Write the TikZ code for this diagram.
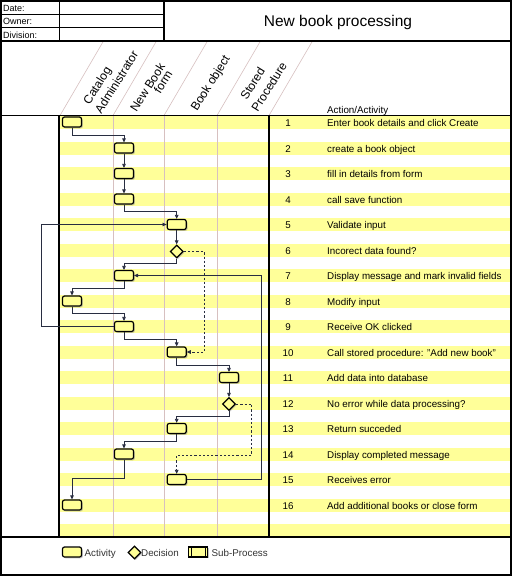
\documentclass[tikz,border=0pt]{standalone}
\usepackage{fontspec}
\setmainfont{Liberation Sans}
\usetikzlibrary{shapes.geometric,arrows.meta,shadows,calc}
\definecolor{stripe}{RGB}{255,255,153}
\definecolor{boxfill}{RGB}{255,255,150}
\definecolor{laneline}{RGB}{215,192,192}
\definecolor{connc}{RGB}{40,45,65}
\begin{document}
\begin{tikzpicture}[x=1pt,y=-1pt,
  activity/.style={draw=black, line width=1.2pt, fill=boxfill, rounded corners=2pt,
    minimum width=19pt, minimum height=10pt, inner sep=0pt,
    drop shadow={shadow xshift=1.3pt, shadow yshift=-1.3pt, fill=black!45}},
  subproc/.style={draw=black, line width=1.2pt, fill=boxfill,
    minimum width=19pt, minimum height=10pt, inner sep=0pt,
    drop shadow={shadow xshift=1.3pt, shadow yshift=-1.3pt, fill=black!45}},
  decision/.style={diamond, draw=black, line width=1.2pt, fill=boxfill,
    minimum width=13pt, minimum height=13pt, inner sep=0pt,
    drop shadow={shadow xshift=1.2pt, shadow yshift=-1.2pt, fill=black!45}},
  conn/.style={draw=connc, line width=0.7pt, -{Triangle[length=4pt,width=3.6pt]}},
  dconn/.style={conn, dash pattern=on 2.2pt off 2pt},
  lbl/.style={font=\fontsize{9.8}{11}\selectfont, inner sep=0pt},
  small/.style={font=\fontsize{9}{10}\selectfont, inner sep=0pt},
  hdr/.style={font=\fontsize{12}{14}\selectfont, rotate=58, inner sep=0pt},
  thick frame/.style={line width=1.6pt, draw=black},
  thin frame/.style={line width=0.8pt, draw=black},
  diag/.style={line width=0.6pt, draw=laneline}
]
\useasboundingbox (0,0) rectangle (512,576);
\fill[white] (0,0) rectangle (512,576);

% stripes
\foreach \k in {0,...,16}
  \fill[stripe] (59,{116+25.5*\k}) rectangle (512,{129+25.5*\k});

% lane dividers
\foreach \x in {113,164,217}
  \draw[diag] (\x,115.5) -- (\x,537);

% header diagonals
\foreach \x in {60,113,164,217,269}
  \draw[diag] (\x,115.5) -- ({\x+43.5},41);

% frame
\draw[thick frame] (1,1) rectangle (511,575);
\draw[thick frame] (0,41) -- (512,41);
\draw[thick frame] (164,0) -- (164,41);
\draw[thick frame] (0,115.5) -- (512,115.5);
\draw[thick frame] (59,115.5) -- (59,537);
\draw[thick frame] (269,115.5) -- (269,537);
\draw[thick frame] (0,537) -- (512,537);
\draw[thin frame] (0,14) -- (164,14);
\draw[thin frame] (0,27.5) -- (164,27.5);
\draw[thin frame] (59,0) -- (59,41);

% header texts
\node[small, anchor=base west] (date) at (3,11) {Date:};
\node[small, anchor=base west] (owner) at (3,24.5) {Owner:};
\node[small, anchor=base west] (division) at (3,38) {Division:};
\node[font=\fontsize{15.5}{18}\selectfont, inner sep=0pt, anchor=base] (title) at (338,26.5) {New book processing};

\node[hdr] (h1a) at (98,86) {Catalog};
\node[hdr] (h1b) at (116.5,82) {Administrator};
\node[hdr] (h2a) at (147.5,87.5) {New Book};
\node[hdr] (h2b) at (163,82) {form};
\node[hdr] (h3) at (211,83.5) {Book object};
\node[hdr] (h4a) at (252.5,83.5) {Stored};
\node[hdr] (h4b) at (269,87) {Procedure};
\node[lbl, anchor=base west] (acthdr) at (327,113) {Action/Activity};

% row texts
\foreach \n/\t in {1/Enter book details and click Create, 2/create a book object,
  3/fill in details from form, 4/call save function, 5/Validate input,
  6/Incorect data found?, 7/Display message and mark invalid fields,
  8/Modify input, 9/Receive OK clicked, 10/Call stored procedure: "Add new book",
  11/Add data into database, 12/No error while data processing?,
  13/Return succeded, 14/Display completed message, 15/Receives error,
  16/Add additional books or close form}
{
  \node[lbl, anchor=base] (num\n) at (288,{126.5+25.5*(\n-1)}) {\n};
  \node[lbl, anchor=base west] (act\n) at (327,{126.5+25.5*(\n-1)}) {\t};
}

% helper coordinates
\coordinate (fbx) at (41,0);
\coordinate (dx1) at (204,0);
\coordinate (dy2) at (251.7,455);
\coordinate (rx) at (261.7,0);
\coordinate (y12) at (0,135);
\coordinate (y45) at (0,211.5);
\coordinate (y67) at (0,263);
\coordinate (y78) at (0,288);
\coordinate (y89) at (0,313);
\coordinate (y910) at (0,339);
\coordinate (y1011) at (0,365);
\coordinate (y1213) at (0,416.5);
\coordinate (y1314) at (0,441.5);
\coordinate (y1416) at (0,478.5);

% flow nodes
\path (72,122) node[activity] (b1) {}
      (124,148) node[activity] (b2) {}
      (124,173.5) node[activity] (b3) {}
      (124,199) node[activity] (b4) {}
      (176.7,224.5) node[activity] (b5) {}
      (176.7,251.5) node[decision] (d6) {}
      (124,275.5) node[activity] (b7) {}
      (72,301) node[activity] (b8) {}
      (124,326.5) node[activity] (b9) {}
      (176.7,352) node[activity] (b10) {}
      (229,377.5) node[activity] (b11) {}
      (229,404) node[decision] (d12) {}
      (176.7,428.5) node[activity] (b13) {}
      (124,454) node[activity] (b14) {}
      (176.7,479.5) node[activity] (b15) {}
      (72,505) node[activity] (b16) {};

% connectors
\draw[conn] (b1.south) -- (b1.south |- y12) -| (b2.north);
\draw[conn] (b2) -- (b3);
\draw[conn] (b3) -- (b4);
\draw[conn] (b4.south) -- (b4.south |- y45) -| (b5.north);
\draw[conn] (b9.west) -- (b9.west -| fbx) |- (b5.west);
\draw[conn] (b5) -- (d6);
\draw[conn] (d6.south) -- (d6.south |- y67) -| (b7.north);
\draw[dconn] (d6.east) -- (d6.east -| dx1) |- (b10.east);
\draw[conn] (b7.south) -- (b7.south |- y78) -| (b8.north);
\draw[conn] (b8.south) -- (b8.south |- y89) -| (b9.north);
\draw[conn] (b9.south) -- (b9.south |- y910) -| (b10.north);
\draw[conn] (b10.south) -- (b10.south |- y1011) -| (b11.north);
\draw[conn] (b11) -- (d12);
\draw[conn] (d12.south) -- (d12.south |- y1213) -| (b13.north);
\draw[dconn] (d12.east) -| (dy2) -| (b15.north);
\draw[conn] (b13.south) -- (b13.south |- y1314) -| (b14.north);
\draw[conn] (b14.south) -- (b14.south |- y1416) -| (b16.north);
\draw[conn] (b15.east) -- (b15.east -| rx) |- (b7.east);

% legend
\node[activity] (legact) at (72,552) {};
\node[lbl, anchor=base west, text=black!80] (legacttxt) at (84.5,556) {Activity};
\node[decision] (legdec) at (134.5,552.5) {};
\node[lbl, anchor=base west, text=black!80] (legdectxt) at (141,556) {Decision};
\node[subproc] (legsp) at (198.3,552) {};
\draw[line width=1.1pt] ([xshift=3pt]legsp.north west) -- ([xshift=3pt]legsp.south west);
\draw[line width=1.1pt] ([xshift=-3pt]legsp.north east) -- ([xshift=-3pt]legsp.south east);
\node[lbl, anchor=base west, text=black!80] (legsptxt) at (211.5,556) {Sub-Process};
\end{tikzpicture}
\end{document}
